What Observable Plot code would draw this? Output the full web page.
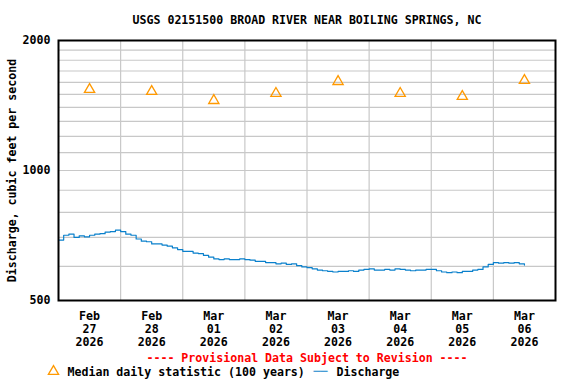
<!DOCTYPE html>
<html>
<head>
<meta charset="utf-8">
<script src="https://cdn.jsdelivr.net/npm/d3@7"></script>
<script src="https://cdn.jsdelivr.net/npm/@observablehq/plot@0.6"></script>
<style>
  html, body { margin: 0; padding: 0; background: white; }
  #chart svg { display: block; }
</style>
</head>
<body>
<div id="chart"></div>
<script>
const titleText = "USGS 02151500 BROAD RIVER NEAR BOILING SPRINGS, NC";
const yLabel = "Discharge, cubic feet per second";
const provisionalText = "---- Provisional Data Subject to Revision ----";
const medianLegend = "Median daily statistic (100 years)";
const dischargeLegend = "Discharge";

// Median daily statistic, one per day (plotted at noon)
const medianDays = ["2026-02-27", "2026-02-28", "2026-03-01", "2026-03-02", "2026-03-03", "2026-03-04", "2026-03-05", "2026-03-06"];
const medianValues = [1540, 1524, 1452, 1508, 1607, 1508, 1484, 1616];

// Discharge, every 2 hours from 2026-02-27 00:00
const dischargeStart = "2026-02-27T00:00:00Z";
const dischargeValues = [
  690, 708, 712, 700, 706, 702, 708, 712, 714, 720, 722, 728,
  722, 712, 708, 694, 686, 684, 676, 676, 672, 668, 662, 656,
  650, 650, 644, 642, 636, 630, 624, 622, 624, 622, 622, 624,
  622, 620, 616, 616, 612, 612, 608, 610, 606, 608, 602, 598,
  596, 592, 588, 586, 584, 582, 584, 584, 586, 584, 588, 590,
  592, 588, 588, 590, 588, 592, 590, 588, 586, 588, 588, 590,
  590, 586, 582, 580, 582, 580, 584, 584, 588, 590, 598, 606,
  612, 610, 612, 610, 612, 608, 604
];

const yGrid = [600, 700, 800, 900, 1000, 1100, 1200, 1300, 1400, 1500, 1600, 1700, 1800, 1900];
const yTicks = [500, 1000, 2000];

const start = new Date(dischargeStart).getTime();
const H = 3600 * 1000;
const discharge = dischargeValues.map((v, i) => ({ date: new Date(start + i * 2 * H), value: v }));
const medians = medianDays.map((d, i) => ({ date: new Date(d + "T12:00:00Z"), value: medianValues[i] }));
const midnights = d3.range(0, 9).map(i => new Date(start + i * 24 * H));
const noons = medianDays.map(d => new Date(d + "T12:00:00Z"));

const BLUE = "#0a80cc";
const ORANGE = "#ff9900";
const FONT = "DejaVu Sans Mono";
const plot = Plot.plot({
  width: 576,
  height: 384,
  marginLeft: 58,
  marginRight: 21,
  marginTop: 40,
  marginBottom: 84,
  style: { fontFamily: FONT, fontSize: "11.6px", fontWeight: "bold", background: "white", color: "black" },
  x: { type: "utc", domain: [midnights[0], midnights[8]] },
  y: { type: "log", domain: [500, 2000] },
  marks: [
    Plot.gridY(yGrid, { stroke: "#c8c8c8", strokeOpacity: 1, strokeWidth: 1.2 }),
    Plot.gridX(midnights.slice(1, 8), { stroke: "#c8c8c8", strokeOpacity: 1, strokeWidth: 1.2 }),
    Plot.axisY(yTicks, { tickSize: 0, tickPadding: 8, tickFormat: d => String(d), label: yLabel, labelAnchor: "center", labelArrow: "none", labelOffset: 51 }),
    Plot.axisX(noons, { tickSize: 0, tickPadding: 10, tickFormat: d3.utcFormat("%b\n%d\n%Y"), lineHeight: 1.12, label: null }),
    Plot.line(discharge, { x: "date", y: "value", stroke: BLUE, strokeWidth: 1.2, curve: "step-after" }),
    Plot.dot(medians, { x: "date", y: "value", symbol: "triangle", r: 3.8, stroke: ORANGE, strokeWidth: 1.3, fill: "none" }),
    Plot.frame({ stroke: "black", strokeWidth: 2 }),
    Plot.text([titleText], { frameAnchor: "top", dy: -20, lineAnchor: "middle" }),
    Plot.text([provisionalText], { frameAnchor: "bottom", dy: 58, lineAnchor: "middle", fill: "#ff0000" }),
    Plot.dot([0], { frameAnchor: "bottom-left", dx: -5, dy: 71, symbol: "triangle", r: 3.8, stroke: ORANGE, strokeWidth: 1.3, fill: "none" }),
    Plot.text([medianLegend], { frameAnchor: "bottom-left", dx: 9, dy: 72, lineAnchor: "middle", textAnchor: "start" }),
    Plot.text(["──"], { frameAnchor: "bottom-left", dx: 255, dy: 71, lineAnchor: "middle", textAnchor: "start", fill: BLUE, fontWeight: "normal" }),
    Plot.text([dischargeLegend], { frameAnchor: "bottom-left", dx: 278, dy: 72, lineAnchor: "middle", textAnchor: "start" })
  ]
});

document.getElementById("chart").appendChild(plot);
</script>
</body>
</html>
